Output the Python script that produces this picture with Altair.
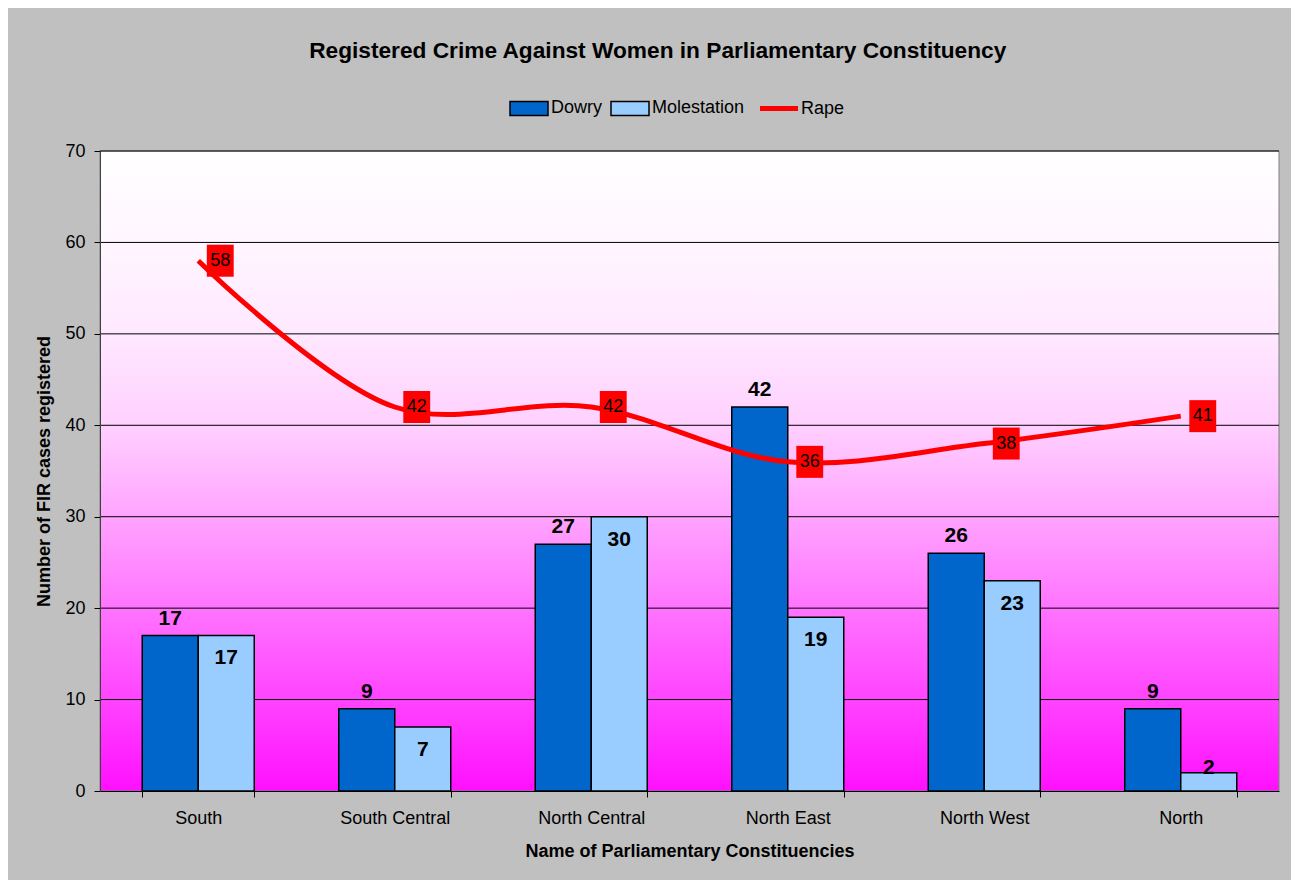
import altair as alt
import pandas as pd

# ---- data ----
categories = ["South", "South Central", "North Central", "North East", "North West", "North"]
dowry = [17, 9, 27, 42, 26, 9]
molestation = [17, 7, 30, 19, 23, 2]
rape = [58, 42, 42, 36, 38, 41]
series_names = ["Dowry", "Molestation", "Rape"]
series_colors = ["#0066CC", "#99CCFF", "#FF0000"]
y_ticks = [0, 10, 20, 30, 40, 50, 60, 70]

bars_df = pd.DataFrame({
    "cat": categories * 2,
    "series": ["Dowry"] * len(categories) + ["Molestation"] * len(categories),
    "value": dowry + molestation,
})
line_df = pd.DataFrame({"cat": categories, "series": ["Rape"] * len(categories), "value": rape})
grid_df = pd.DataFrame({"tick": y_ticks[1:]})

FONT = "Liberation Sans"
W, H = 1179, 640
Y_TITLE = "Number of FIR cases registered"
X_TITLE = "Name of Parliamentary Constituencies"

x_scale = alt.Scale(paddingInner=0.43, paddingOuter=0.215)
x_axis = alt.Axis(labelAngle=0, labelFontSize=18, labelPadding=12, tickSize=6,
                  tickBand="extent", titleFontSize=18, titleFontWeight="bold",
                  titlePadding=15, domainColor="black", tickColor="black",
                  labelColor="black", titleColor="black", zindex=1, grid=False,
                  labelFont=FONT, titleFont=FONT)
y_scale = alt.Scale(domain=[0, 70], nice=False, zero=True)
y_axis = alt.Axis(values=y_ticks, grid=False, labelFontSize=18, labelPadding=9,
                  tickSize=6, titleFontSize=18, titleFontWeight="bold", titlePadding=11,
                  domainColor="#404040", tickColor="black", labelColor="black",
                  titleColor="black", zindex=1, labelFont=FONT, titleFont=FONT)


def X():
    return alt.X("cat:N", sort=categories, scale=x_scale, axis=x_axis, title=X_TITLE)


def Y(field):
    return alt.Y(field, type="quantitative", scale=y_scale, axis=y_axis, title=Y_TITLE)


fill_scale = alt.Scale(domain=series_names, range=series_colors)
legend = alt.Legend(
    orient="none", legendX=420, legendY=-52, direction="horizontal", title=None,
    labelFontSize=18, labelFont=FONT, labelColor="black", symbolSize=1444,
    labelOffset=13, columnPadding=5,
    symbolType=alt.ExprRef(expr="datum.value === 'Rape' ? 'stroke' : 'M-1,-0.37H1V0.37H-1Z'"),
    symbolStrokeColor=alt.ExprRef(expr="datum.value === 'Rape' ? '#FF0000' : '#000000'"),
    symbolStrokeWidth=alt.ExprRef(expr="datum.value === 'Rape' ? 5 : 1.5"),
)

gradient = alt.LinearGradient(
    gradient="linear", x1=0, x2=0, y1=0, y2=1,
    stops=[
        alt.GradientStop(offset=0.0, color="#FFFFFF"),
        alt.GradientStop(offset=0.143, color="#FFF6FF"),
        alt.GradientStop(offset=0.286, color="#FFE8FF"),
        alt.GradientStop(offset=0.429, color="#FFD0FF"),
        alt.GradientStop(offset=0.571, color="#FFA4FF"),
        alt.GradientStop(offset=0.714, color="#FF74FF"),
        alt.GradientStop(offset=0.857, color="#FF44FF"),
        alt.GradientStop(offset=1.0, color="#FF10FF"),
    ],
)

bg = alt.Chart(pd.DataFrame({"v": [0]})).mark_rect(
    fill=gradient, stroke="#808080", strokeWidth=1
).encode(x=alt.value(0), x2=alt.value(W), y=alt.value(0), y2=alt.value(H))

grid = alt.Chart(grid_df).mark_rule(color="black", strokeWidth=1).encode(y=Y("tick"))

xoff = alt.XOffset("series:N", sort=["Dowry", "Molestation"],
                   scale=alt.Scale(paddingInner=0, paddingOuter=0))

bars = alt.Chart(bars_df).mark_bar(stroke="black", strokeWidth=1.5).encode(
    x=X(), xOffset=xoff, y=Y("value"),
    fill=alt.Fill("series:N", scale=fill_scale, legend=legend),
)

dowry_labels = alt.Chart(bars_df).transform_filter(
    "datum.series === 'Dowry'"
).mark_text(baseline="alphabetic", dy=-11, fontSize=21, fontWeight="bold",
            font=FONT, color="black").encode(
    x=X(), xOffset=xoff, y=Y("value"), text="value:Q"
)

mol_labels = alt.Chart(bars_df).transform_filter(
    "datum.series === 'Molestation'"
).transform_calculate(
    ly="max(datum.value - 2.5, 2.5)"
).mark_text(baseline="middle", fontSize=21, fontWeight="bold",
            font=FONT, color="black").encode(
    x=X(), xOffset=xoff, y=Y("ly"), text="value:Q"
)

line = alt.Chart(line_df).mark_line(
    strokeWidth=5, interpolate="catmull-rom", color="#FF0000"
).encode(x=X(), y=Y("value"))

boxes = alt.Chart(line_df).mark_point(
    shape="M-0.84,-1H0.84V1H-0.84Z", size=1024, filled=True, fill="#FF0000",
    opacity=1, strokeWidth=0, xOffset=22
).encode(x=X(), y=Y("value"))

rape_labels = alt.Chart(line_df).mark_text(
    dx=22, baseline="middle", fontSize=18, font=FONT, color="black"
).encode(x=X(), y=Y("value"), text="value:Q")

chart = alt.layer(bg, grid, bars, dowry_labels, mol_labels, line, boxes, rape_labels).properties(
    width=W, height=H,
    title=alt.TitleParams(
        "Registered Crime Against Women in Parliamentary Constituency",
        fontSize=22.7, fontWeight="bold", font=FONT, color="black",
        anchor="middle", frame="bounds", offset=36,
    ),
    padding={"left": 92, "top": 143, "right": 12, "bottom": 89},
    autosize=alt.AutoSizeParams(type="none"),
).configure(
    background="#C0C0C0",
).configure_view(stroke=None)

chart.save("out.html", embed_options={"renderer": "svg", "actions": False})
